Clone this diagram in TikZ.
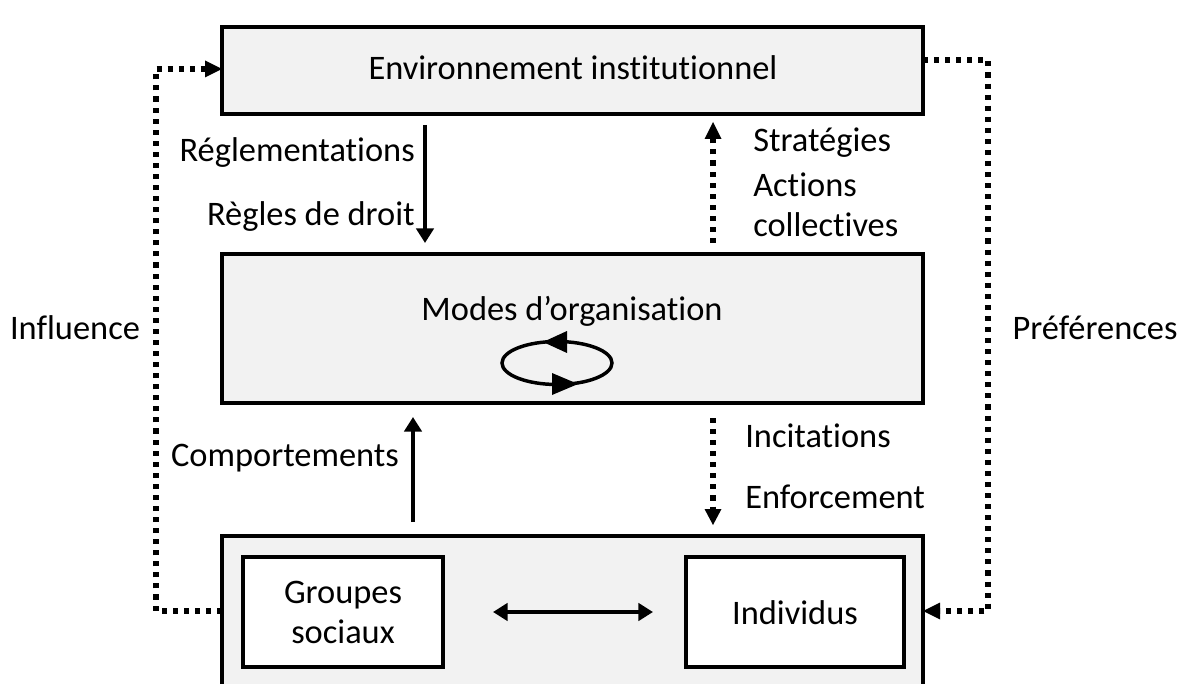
\documentclass[tikz,border=0pt]{standalone}
\usepackage{fontspec}
\setmainfont[Ligatures=NoCommon]{Carlito}
\usetikzlibrary{arrows.meta,calc}
\begin{document}
\begin{tikzpicture}[x=0.75pt,y=-0.75pt,
  bigbox/.style={draw=black,line width=2.5pt,fill=boxgray},
  smallbox/.style={draw=black,line width=2.5pt,fill=white},
  lbl/.style={font=\fontsize{25.8}{30}\selectfont,inner sep=0pt},
  solidarr/.style={line width=3pt,-{Triangle[width=13pt,length=11pt]}},
  dotarr/.style={line width=3.8pt,dash pattern=on 3.8pt off 4.5pt},
  dbl/.style={line width=3pt,{Triangle[width=13pt,length=11pt]}-{Triangle[width=13pt,length=11pt]}}]
\definecolor{boxgray}{HTML}{F2F2F2}
\useasboundingbox (0,0) rectangle (1187,684);
\clip (0,0) rectangle (1187,684);
% boxes
\node[bigbox,minimum width=701*0.75pt,minimum height=87*0.75pt,inner sep=0pt] (env) at (572.5,70.5) {};
\node[lbl] (envlbl) at (573,68) {Environnement institutionnel};
\node[bigbox,minimum width=701*0.75pt,minimum height=149*0.75pt,inner sep=0pt] (modes) at (572.5,328.5) {};
\node[lbl] (modeslbl) at (572,311) {Modes d’organisation};
\draw[bigbox] (222,536) rectangle (923,720);
\coordinate (botL) at (222,611);
\coordinate (botR) at (923,611);
\node[smallbox,minimum width=200*0.75pt,minimum height=110*0.75pt,inner sep=0pt] (grp) at (343,612) {};
\node[lbl,align=center] (grplbl) at (343,612) {Groupes\\sociaux};
\node[smallbox,minimum width=218*0.75pt,minimum height=110*0.75pt,inner sep=0pt] (ind) at (795,612) {};
\node[lbl] (indlbl) at (795,613) {Individus};
\coordinate (d1) at (493,612);
\coordinate (d2) at (653,612);
\draw[dbl] (d1) -- (d2);
% cycle
\draw[line width=2.6pt] (557,363) ellipse (55 and 21.5);
\fill (543,342) -- (567,331) -- (567,353) -- cycle;
\fill (578,384) -- (552,373) -- (552,395) -- cycle;
% vertical arrows
\coordinate (r1) at (425,125);
\coordinate (r2) at (425,243);
\draw[solidarr] (r1) -- (r2);
\node[lbl,anchor=east] (reg) at (415,153) {Réglementations};
\node[lbl,anchor=east] (regd) at (415,217) {Règles de droit};
\coordinate (s1) at (713,243);
\coordinate (s2) at (713,122);
\draw[dotarr] (s1) -- (713,139);
\fill (s2) -- (704.5,139) -- (721.5,139) -- cycle;
\node[lbl,anchor=west] (st1) at (753,143) {Stratégies};
\node[lbl,anchor=west] (st2) at (753,185) {Actions};
\node[lbl,anchor=west] (st3) at (753,225) {collectives};
\coordinate (c1) at (413,522);
\coordinate (c2) at (413,417);
\draw[solidarr] (c1) -- (c2);
\node[lbl] (comp) at (285,458) {Comportements};
\coordinate (i1) at (713,418);
\coordinate (i2) at (713,525);
\draw[dotarr] (i1) -- (713,509);
\fill (i2) -- (704.5,509) -- (721.5,509) -- cycle;
\node[lbl,anchor=west] (inc) at (745,436) {Incitations};
\node[lbl,anchor=west] (enf) at (745,497) {Enforcement};
% side loops
\coordinate (envL) at (222,69);
\draw[dotarr] (botL) -- (156,611) -- (156,69) -- (207,69);
\fill (envL) -- (205,60.5) -- (205,77.5) -- cycle;
\node[lbl] (infl) at (75,328) {Influence};
\coordinate (envR) at (923,60);
\draw[dotarr] (envR) -- (988,60) -- (988,611) -- (940,611);
\fill (botR) -- (940,602.5) -- (940,619.5) -- cycle;
\node[lbl] (pref) at (1095,328) {Préférences};
\end{tikzpicture}
\end{document}
